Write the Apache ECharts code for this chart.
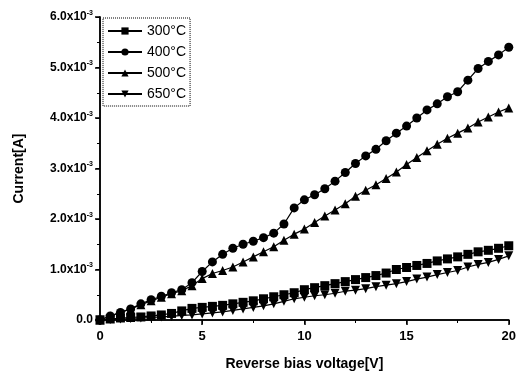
<!DOCTYPE html>
<html>
<head>
<meta charset="utf-8">
<script src="https://cdn.jsdelivr.net/npm/echarts@6/dist/echarts.min.js"></script>
<style>html,body{margin:0;padding:0;background:#fff}#c{width:519px;height:376px}</style>
</head>
<body>
<div id="c"></div>
<script>
// Voltage [V]
var voltage = [0,0.5,1,1.5,2,2.5,3,3.5,4,4.5,5,5.5,6,6.5,7,7.5,8,8.5,9,9.5,10,10.5,11,11.5,12,12.5,13,13.5,14,14.5,15,15.5,16,16.5,17,17.5,18,18.5,19,19.5,20];
// Current in units of 1e-3 A
var s300 = [0,0.02,0.04,0.05,0.06,0.08,0.10,0.13,0.18,0.23,0.25,0.27,0.29,0.32,0.35,0.38,0.42,0.46,0.50,0.54,0.60,0.64,0.68,0.72,0.76,0.80,0.84,0.88,0.93,1.00,1.04,1.08,1.12,1.17,1.21,1.25,1.30,1.35,1.38,1.42,1.47];
var s400 = [0,0.08,0.15,0.22,0.32,0.40,0.47,0.54,0.60,0.74,0.96,1.15,1.30,1.42,1.50,1.56,1.63,1.72,1.90,2.22,2.38,2.48,2.60,2.75,2.92,3.10,3.25,3.38,3.55,3.70,3.84,4.00,4.16,4.28,4.42,4.52,4.75,4.98,5.12,5.25,5.40];
var s500 = [0,0.08,0.15,0.22,0.30,0.38,0.45,0.52,0.58,0.68,0.82,0.92,0.98,1.05,1.15,1.25,1.35,1.45,1.58,1.70,1.80,1.93,2.06,2.18,2.30,2.45,2.57,2.68,2.80,2.93,3.08,3.22,3.35,3.48,3.60,3.70,3.80,3.92,4.02,4.12,4.20];
var s650 = [0,0.01,0.02,0.03,0.04,0.05,0.06,0.07,0.09,0.10,0.12,0.14,0.16,0.19,0.22,0.25,0.28,0.32,0.37,0.42,0.45,0.48,0.50,0.53,0.57,0.59,0.62,0.66,0.69,0.72,0.76,0.81,0.85,0.90,0.94,0.98,1.05,1.10,1.14,1.20,1.27];
var seriesNames = ['300°C','400°C','500°C','650°C'];
var xTicks = [0,5,10,15,20];
var yTickLabels = ['0.0','1.0x10','2.0x10','3.0x10','4.0x10','5.0x10','6.0x10'];

function pairs(v){ return voltage.map(function(x,i){ return [x, v[i]*1e-3]; }); }
var font = '"Liberation Sans", Arial, sans-serif';

var chart = echarts.init(document.getElementById('c'), null, {renderer:'canvas'});
function mk(name, data, sym, rot){
  return {name:name, type:'line', data:pairs(data), symbol:sym, symbolSize:9, symbolRotate:rot||0,
    showAllSymbol:true, lineStyle:{color:'#000', width:1.2}, itemStyle:{color:'#000'}, animation:false};
}
chart.setOption({
  animation:false,
  backgroundColor:'#fff',
  grid:{left:100, right:7, top:17, bottom:54},
  legend:{
    orient:'vertical', left:103, top:18, data:seriesNames,
    itemWidth:34, itemHeight:9, itemGap:7,
    padding:[6,4,5,4], borderColor:'#000', borderWidth:1, borderType:'dotted',
    textStyle:{fontFamily:font, fontSize:14, color:'#000'}
  },
  xAxis:[{
    type:'value', min:0, max:20, interval:5,
    name:'Reverse bias voltage[V]', nameLocation:'middle', nameGap:37,
    nameTextStyle:{fontFamily:font, fontWeight:'bold', fontSize:14, color:'#000'},
    axisLine:{lineStyle:{color:'#000', width:1.5}},
    axisTick:{inside:false, length:5, lineStyle:{color:'#000', width:1.5}},
    minorTick:{show:true, splitNumber:2, length:3, lineStyle:{color:'#000'}},
    splitLine:{show:false},
    axisLabel:{fontFamily:font, fontWeight:'bold', fontSize:13, color:'#000', margin:10}
  },{
    type:'value', min:0, max:20, interval:5, position:'top',
    axisLine:{lineStyle:{color:'#000', width:1.5}},
    axisTick:{inside:true, length:4, lineStyle:{color:'#000'}},
    minorTick:{show:true, splitNumber:2, length:2},
    axisLabel:{show:false}, splitLine:{show:false}
  }],
  yAxis:[{
    type:'value', min:0, max:0.006, interval:0.001,
    name:'Current[A]', nameLocation:'middle', nameGap:74, nameRotate:90,
    nameTextStyle:{fontFamily:font, fontWeight:'bold', fontSize:14, color:'#000'},
    axisLine:{lineStyle:{color:'#000', width:1.5}},
    axisTick:{inside:false, length:5, lineStyle:{color:'#000', width:1.5}},
    minorTick:{show:true, splitNumber:2, length:3, lineStyle:{color:'#000'}},
    splitLine:{show:false},
    axisLabel:{
      margin:7,
      formatter:function(v){
        var i = Math.round(v/0.001);
        if(i===0) return '{a|'+yTickLabels[0]+'}';
        return '{a|'+yTickLabels[i]+'}{s|-3}';
      },
      rich:{
        a:{fontFamily:font, fontWeight:'bold', fontSize:12, color:'#000'},
        s:{fontFamily:font, fontWeight:'bold', fontSize:7, color:'#000', verticalAlign:'top', padding:[0,0,8,0]}
      }
    }
  },{
    type:'value', min:0, max:0.006, interval:0.001, position:'right',
    axisLine:{lineStyle:{color:'#000', width:1.5}},
    axisTick:{inside:true, length:4, lineStyle:{color:'#000'}},
    minorTick:{show:true, splitNumber:2, length:2},
    axisLabel:{show:false}, splitLine:{show:false}
  }],
  series:[
    mk(seriesNames[0], s300, 'rect'),
    mk(seriesNames[1], s400, 'circle'),
    mk(seriesNames[2], s500, 'triangle'),
    mk(seriesNames[3], s650, 'triangle', 180)
  ]
});
</script>
</body>
</html>
